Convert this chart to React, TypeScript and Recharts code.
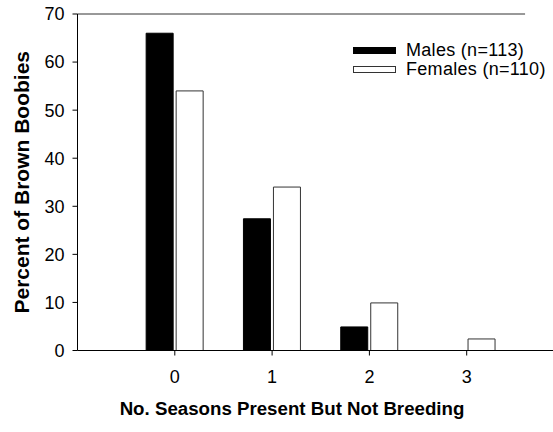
import React from 'react';
import { BarChart, Bar, XAxis, YAxis, ReferenceLine } from 'recharts';

const seasons = [0, 1, 2, 3];
const males = [66, 27.4, 4.9, 0];
const females = [54, 34, 9.9, 2.4];
const xTicks = [0, 1, 2, 3];
const yTicks = [0, 10, 20, 30, 40, 50, 60, 70];

const chartData = seasons.map((s, i) => ({
  season: s,
  males: males[i],
  females: females[i],
}));

const FONT = '"Liberation Sans", Arial, sans-serif';

// legend drawn as an overlay so the chart doesn't reserve room for it
const LegendBox = () => (
  <div style={{ position: 'absolute', left: 353, top: 41, fontFamily: FONT, fontSize: 18, color: '#000', letterSpacing: 0.3 }}>
    <div style={{ display: 'flex', alignItems: 'center', height: 19 }}>
      <span style={{ width: 43, height: 7, background: '#000', marginRight: 10, display: 'inline-block' }} />
      <span>Males (n=113)</span>
    </div>
    <div style={{ display: 'flex', alignItems: 'center', height: 19 }}>
      <span style={{ width: 41, height: 5, border: '1px solid #333', background: '#fff', marginRight: 10, display: 'inline-block' }} />
      <span>Females (n=110)</span>
    </div>
  </div>
);

const YTitle = (props: any) => {
  const { viewBox } = props;
  const cy = viewBox.y + viewBox.height / 2;
  return (
    <text x={21} y={cy} transform={`rotate(-90, 21, ${cy})`} textAnchor="middle" dominantBaseline="central"
      fontFamily={FONT} fontWeight="bold" fontSize={21} fill="#000">
      Percent of Brown Boobies
    </text>
  );
};

const XTitle = () => (
  <text x={292} y={415} textAnchor="middle" fontFamily={FONT} fontWeight="bold" fontSize={18.7} fill="#000">
    No. Seasons Present But Not Breeding
  </text>
);

export default function App() {
  return (
    <div style={{ position: 'absolute', left: 0, top: 0, width: 553, height: 432, overflow: 'hidden', background: '#fff' }}>
      <BarChart
        width={553}
        height={432}
        data={chartData}
        margin={{ top: 14, right: 0, bottom: 0, left: 0 }}
        barSize={27}
        barGap={3}
      >
        <XAxis
          type="number"
          dataKey="season"
          domain={[-1, 3.887]}
          allowDataOverflow
          ticks={xTicks}
          height={81.5}
          tickSize={5}
          tickMargin={14.5}
          stroke="#000"
          tick={{ fill: '#000', fontSize: 18, fontFamily: FONT }}
          label={<XTitle />}
        />
        <YAxis
          domain={[0, 70]}
          ticks={yTicks}
          width={77.5}
          tickSize={5}
          tickMargin={8}
          stroke="#000"
          tick={{ fill: '#000', fontSize: 18, fontFamily: FONT }}
          label={<YTitle />}
        />
        <ReferenceLine
          segment={[{ x: -1, y: 70 }, { x: 3.6, y: 70 }]}
          stroke="#333"
          strokeWidth={1}
        />
        <Bar dataKey="males" fill="#000" stroke="#000" strokeWidth={1} isAnimationActive={false} />
        <Bar dataKey="females" fill="#fff" stroke="#333" strokeWidth={1} isAnimationActive={false} />
      </BarChart>
      <LegendBox />
    </div>
  );
}
